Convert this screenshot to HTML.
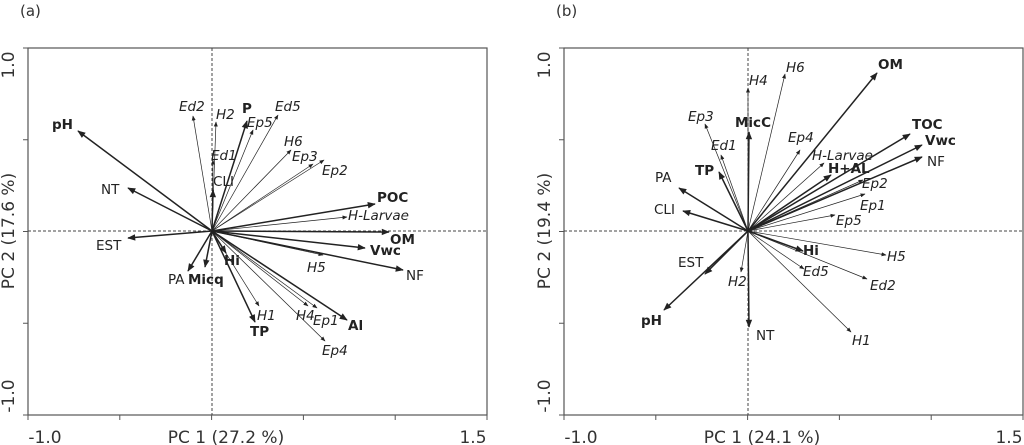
<!DOCTYPE html>
<html><head><meta charset="utf-8"><style>
html,body{margin:0;padding:0;background:#fff}
svg{display:block;font-family:"DejaVu Sans","Liberation Sans",sans-serif}
</style></head><body>
<svg id="s" width="1024" height="445" viewBox="0 0 1024 445" xmlns="http://www.w3.org/2000/svg">
<defs>
<marker id="m1" viewBox="0 0 10 10" refX="9" refY="5" markerWidth="5" markerHeight="5" orient="auto-start-reverse" markerUnits="userSpaceOnUse"><path d="M0,1 L10,5 L0,9 z" fill="#222"/></marker>
<marker id="m2" viewBox="0 0 10 10" refX="9" refY="5" markerWidth="9" markerHeight="8" orient="auto-start-reverse" markerUnits="userSpaceOnUse"><path d="M0,1 L10,5 L0,9 z" fill="#222"/></marker>
</defs>
<g id="g"></g>
</svg>
<script>
var g=document.getElementById('g'),NS='http://www.w3.org/2000/svg';
function el(t,a,txt){var e=document.createElementNS(NS,t);for(var k in a)e.setAttribute(k,a[k]);if(txt)e.textContent=txt;g.appendChild(e);return e;}
function panel(L,R,T,B,ox,oy,title,pc1,pc2,arrows){
 el('text',{x:L-8,y:16,'font-size':15,fill:'#333'},title);
 el('rect',{x:L,y:T,width:R-L,height:B-T,fill:'none',stroke:'#555','stroke-width':1.2});
 el('line',{x1:L,y1:oy,x2:R,y2:oy,stroke:'#444','stroke-dasharray':'3,2','stroke-width':1});
 el('line',{x1:ox,y1:T,x2:ox,y2:B,stroke:'#444','stroke-dasharray':'3,2','stroke-width':1});
 for(var i=0;i<6;i++){var x=L+(R-L)*i/5;el('line',{x1:x,y1:B,x2:x,y2:B+5,stroke:'#555'});}
 for(var i=0;i<5;i++){var y=T+(B-T)*i/4;el('line',{x1:L,y1:y,x2:L-5,y2:y,stroke:'#555'});}
 el('text',{x:L+17,y:443,'font-size':17,'text-anchor':'middle',fill:'#333'},'-1.0');
 el('text',{x:R-14,y:443,'font-size':17,'text-anchor':'middle',fill:'#333'},'1.5');
 el('text',{x:ox+14,y:443,'font-size':17,'text-anchor':'middle',fill:'#333'},pc1);
 el('text',{x:0,y:0,'font-size':17,'text-anchor':'middle',fill:'#333',transform:'translate('+(L-14)+','+(T+17)+') rotate(-90)'},'1.0');
 el('text',{x:0,y:0,'font-size':17,'text-anchor':'middle',fill:'#333',transform:'translate('+(L-14)+','+(B-19)+') rotate(-90)'},'-1.0');
 el('text',{x:0,y:0,'font-size':17,'text-anchor':'middle',fill:'#333',transform:'translate('+(L-14)+','+oy+') rotate(-90)'},pc2);
 arrows.forEach(function(a){
  var b=a[5]=='b', n=a[5]=='n';
  el('line',{x1:ox,y1:oy,x2:a[0],y2:a[1],stroke:'#222','stroke-width':(b||n)?1.5:0.7,'marker-end':(b||n)?'url(#m2)':'url(#m1)'});
  var t={x:a[3],y:a[4]+5,'font-size':13.5,fill:'#222'};
  if(b)t['font-weight']='bold';
  if(a[5]=='i')t['font-style']='italic';
  el('text',t,a[2]);
 });
}
panel(28,487,48,415,212,231,'(a)','PC 1 (27.2 %)','PC 2 (17.6 %)',[
[78,131,'pH',52,124,'b'],[128,188,'NT',101,189,'n'],[128,238,'EST',96,245,'n'],
[188,271,'PA',168,279,'n'],[205,267,'Micq',188,279,'b'],[226,253,'Hi',224,260,'b'],
[255,322,'TP',250,331,'b'],[259,306,'H1',257,315,'i'],[308,306,'H4',296,315,'i'],
[317,308,'Ep1',313,320,'i'],[347,320,'Al',348,325,'b'],[325,341,'Ep4',322,350,'i'],
[403,270,'NF',406,275,'n'],[323,255,'H5',307,267,'i'],[365,248,'Vwc',370,250,'b'],
[389,232,'OM',390,239,'b'],[347,217,'H-Larvae',348,215,'i'],[375,204,'POC',377,197,'b'],
[324,160,'Ep2',322,170,'i'],[313,164,'Ep3',292,156,'i'],[291,150,'H6',284,141,'i'],
[278,115,'Ed5',275,106,'i'],[253,130,'Ep5',247,122,'i'],[247,121,'P',242,108,'b'],
[216,122,'H2',216,114,'i'],[193,116,'Ed2',179,106,'i'],[213,160,'Ed1',211,155,'i'],
[213,190,'CLI',213,181,'n']]);
panel(564,1023,48,415,748,231,'(b)','PC 1 (24.1 %)','PC 2 (19.4 %)',[
[877,73,'OM',878,64,'b'],[785,74,'H6',786,67,'i'],[748,88,'H4',749,80,'i'],
[705,124,'Ep3',688,116,'i'],[749,132,'MicC',735,122,'b'],[721,155,'Ed1',711,145,'i'],
[719,172,'TP',695,170,'b'],[679,188,'PA',655,177,'n'],[683,211,'CLI',654,209,'n'],
[705,274,'EST',678,262,'n'],[664,310,'pH',641,320,'b'],[741,272,'H2',728,281,'i'],
[749,327,'NT',756,335,'n'],[851,332,'H1',852,340,'i'],[867,279,'Ed2',870,285,'i'],
[804,269,'Ed5',803,271,'i'],[803,251,'Hi',803,250,'b'],[886,255,'H5',887,256,'i'],
[835,215,'Ep5',836,220,'i'],[865,194,'Ep1',860,205,'i'],[863,180,'Ep2',862,183,'i'],
[831,175,'H+AL',828,168,'b'],[824,163,'H-Larvae',812,155,'i'],[800,150,'Ep4',788,137,'i'],
[910,134,'TOC',912,124,'b'],[922,145,'Vwc',925,140,'b'],[922,157,'NF',927,161,'n']]);
</script>
</body></html>
